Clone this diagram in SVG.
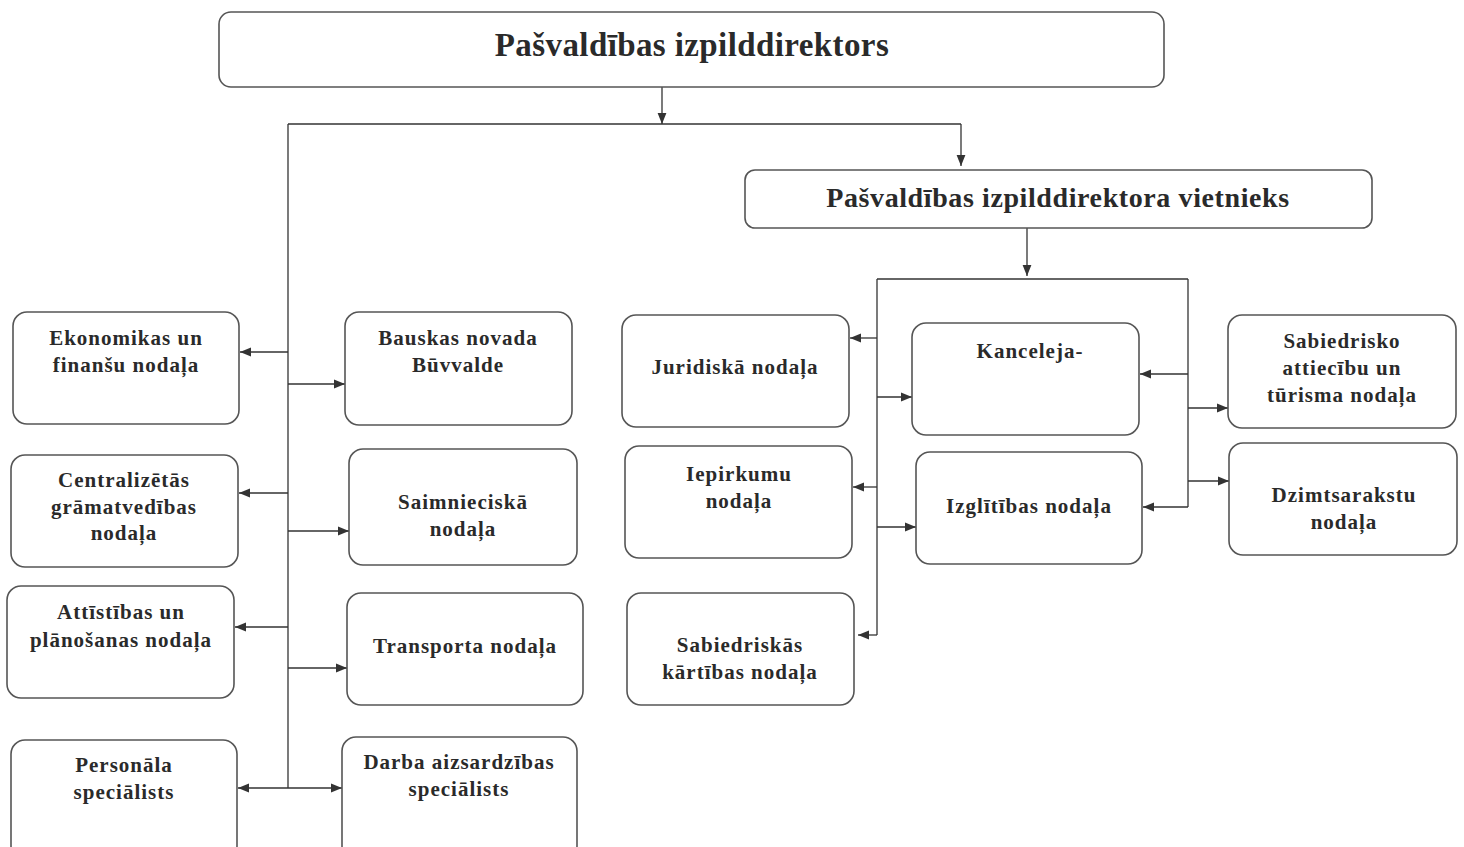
<svg xmlns="http://www.w3.org/2000/svg" width="1464" height="847" viewBox="0 0 1464 847">
<defs>
<marker id="ah" viewBox="0 0 10 10" refX="10" refY="5" markerWidth="11" markerHeight="11" markerUnits="userSpaceOnUse" orient="auto">
<path d="M0,1 L10,5 L0,9 Z" fill="#333"/>
</marker>
</defs>
<style>
.box{fill:#fff;stroke:#555;stroke-width:1.6}
text{font-family:'Liberation Serif','Times New Roman',Times,'DejaVu Serif',serif;font-weight:700;font-size:21px;letter-spacing:1px;fill:#2a2a2a;text-anchor:middle}
.big{font-size:33px;letter-spacing:0.4px}
.mid{font-size:28px;letter-spacing:0.6px}
.c{fill:none;stroke:#333;stroke-width:1.3}
.a{marker-end:url(#ah)}
</style>
<rect width="1464" height="847" fill="#fff"/>
<g id="connectors">
<path class="c a" d="M662,87 V124"/>
<path class="c" d="M288,124 H961"/>
<path class="c a" d="M961,124 V166"/>
<path class="c" d="M288,124 V788"/>
<path class="c a" d="M288,352 H240"/>
<path class="c a" d="M288,384 H345"/>
<path class="c a" d="M288,493 H239"/>
<path class="c a" d="M288,531 H349"/>
<path class="c a" d="M288,627 H235"/>
<path class="c a" d="M288,668 H347"/>
<path class="c a" d="M288,788 H238"/>
<path class="c a" d="M288,788 H342"/>
<path class="c a" d="M1027,228 V276"/>
<path class="c" d="M877,279 H1188"/>
<path class="c" d="M877,279 V635"/>
<path class="c" d="M1188,279 V507"/>
<path class="c a" d="M877,338 H850"/>
<path class="c a" d="M877,397 H912"/>
<path class="c a" d="M1188,374 H1140"/>
<path class="c a" d="M1188,408 H1228"/>
<path class="c a" d="M877,487 H853"/>
<path class="c a" d="M877,527 H916"/>
<path class="c a" d="M1188,507 H1143"/>
<path class="c a" d="M1188,481 H1229"/>
<path class="c a" d="M877,635 H858"/>
</g>
<g id="n-director">
<rect class="box" x="219" y="12" width="945" height="75" rx="12"/>
<text class="big" x="692" y="56">Pašvaldības izpilddirektors</text>
</g>
<g id="n-deputy">
<rect class="box" x="745" y="170" width="627" height="58" rx="10"/>
<text class="mid" x="1058" y="207">Pašvaldības izpilddirektora vietnieks</text>
</g>
<g id="n-ekonomikas">
<rect class="box" x="13" y="312" width="226" height="112" rx="14"/>
<text x="126" y="345">Ekonomikas un</text>
<text x="126" y="372">finanšu nodaļa</text>
</g>
<g id="n-bauskas">
<rect class="box" x="345" y="312" width="227" height="113" rx="14"/>
<text x="458" y="345">Bauskas novada</text>
<text x="458" y="372">Būvvalde</text>
</g>
<g id="n-centralizetas">
<rect class="box" x="11" y="455" width="227" height="112" rx="14"/>
<text x="124" y="487">Centralizētās</text>
<text x="124" y="514">grāmatvedības</text>
<text x="124" y="540">nodaļa</text>
</g>
<g id="n-saimnieciska">
<rect class="box" x="349" y="449" width="228" height="116" rx="14"/>
<text x="463" y="509">Saimnieciskā</text>
<text x="463" y="536">nodaļa</text>
</g>
<g id="n-attistibas">
<rect class="box" x="7" y="586" width="227" height="112" rx="14"/>
<text x="121" y="619">Attīstības un</text>
<text x="121" y="647">plānošanas nodaļa</text>
</g>
<g id="n-transporta">
<rect class="box" x="347" y="593" width="236" height="112" rx="14"/>
<text x="465" y="653">Transporta nodaļa</text>
</g>
<g id="n-personala">
<rect class="box" x="11" y="740" width="226" height="120" rx="14"/>
<text x="124" y="772">Personāla</text>
<text x="124" y="799">speciālists</text>
</g>
<g id="n-darba">
<rect class="box" x="342" y="737" width="235" height="123" rx="14"/>
<text x="459" y="769">Darba aizsardzības</text>
<text x="459" y="796">speciālists</text>
</g>
<g id="n-juridiska">
<rect class="box" x="622" y="315" width="227" height="112" rx="14"/>
<text x="735" y="374">Juridiskā nodaļa</text>
</g>
<g id="n-kanceleja">
<rect class="box" x="912" y="323" width="227" height="112" rx="14"/>
<text x="1030" y="358">Kanceleja-</text>
</g>
<g id="n-sabiedrisko">
<rect class="box" x="1228" y="315" width="228" height="113" rx="14"/>
<text x="1342" y="348">Sabiedrisko</text>
<text x="1342" y="375">attiecību un</text>
<text x="1342" y="402">tūrisma nodaļa</text>
</g>
<g id="n-iepirkumu">
<rect class="box" x="625" y="446" width="227" height="112" rx="14"/>
<text x="739" y="481">Iepirkumu</text>
<text x="739" y="508">nodaļa</text>
</g>
<g id="n-izglitibas">
<rect class="box" x="916" y="452" width="226" height="112" rx="14"/>
<text x="1029" y="513">Izglītības nodaļa</text>
</g>
<g id="n-dzimtsarakstu">
<rect class="box" x="1229" y="443" width="228" height="112" rx="14"/>
<text x="1344" y="502">Dzimtsarakstu</text>
<text x="1344" y="529">nodaļa</text>
</g>
<g id="n-sabiedriskas">
<rect class="box" x="627" y="593" width="227" height="112" rx="14"/>
<text x="740" y="652">Sabiedriskās</text>
<text x="740" y="679">kārtības nodaļa</text>
</g>
</svg>
